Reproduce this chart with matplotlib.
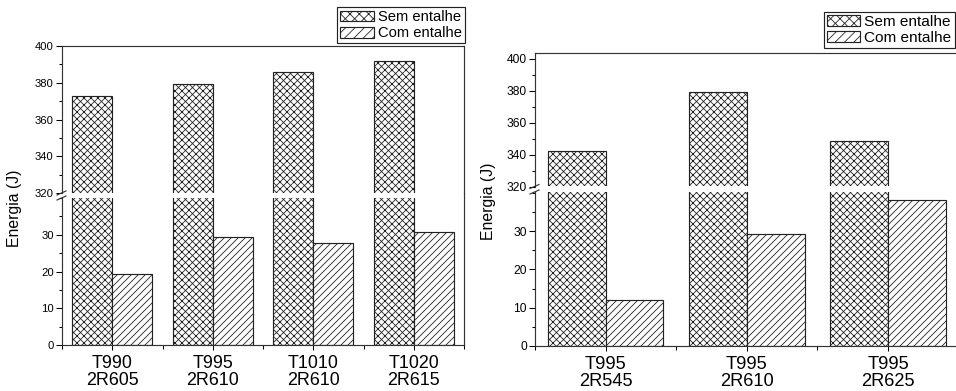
import numpy as np
import matplotlib.pyplot as plt
from matplotlib.patches import Patch
from matplotlib.ticker import MultipleLocator

# Data
labels_left = ["T990\n2R605", "T995\n2R610", "T1010\n2R610", "T1020\n2R615"]
sem_left = [373, 379.5, 386, 392]
com_left = [19.4, 29.4, 27.7, 30.8]

labels_right = ["T995\n2R545", "T995\n2R610", "T995\n2R625"]
sem_right = [342.2, 379, 348.7]
com_right = [12.1, 29.2, 38.2]

plt.rcParams["font.family"] = ["Liberation Sans", "DejaVu Sans"]
plt.rcParams["hatch.linewidth"] = 0.7

DPI = 84
W, H = 956, 391
fig = plt.figure(figsize=(W / DPI, H / DPI), dpi=DPI)
EDGE = "#222222"
HATCH_SEM = "xxxx"
HATCH_COM = "////"


def px_rect(x0, x1, y0, y1):
    # pixel box (top-left origin) -> figure fraction rect
    return [x0 / W, 1 - y1 / H, (x1 - x0) / W, (y1 - y0) / H]


def panel(box_top, box_bot, labels, sem, com, top_lim, bot_lim, width,
          fs_ytick, fs_xtick):
    ax_t = fig.add_axes(px_rect(*box_top))
    ax_b = fig.add_axes(px_rect(*box_bot))
    x = np.arange(1, len(labels) + 1)
    for ax in (ax_t, ax_b):
        ax.bar(x - width / 2, sem, width, color="white", edgecolor=EDGE,
               hatch=HATCH_SEM, linewidth=1.0)
        ax.bar(x + width / 2, com, width, color="white", edgecolor=EDGE,
               hatch=HATCH_COM, linewidth=1.0)
        ax.set_xlim(0.5, len(labels) + 0.5)
        for s in ax.spines.values():
            s.set_linewidth(1.0)
            s.set_color("#333333")
        ax.tick_params(axis="y", which="major", direction="out", length=5,
                       width=0.9, labelsize=fs_ytick, pad=2, right=False)
        ax.tick_params(axis="y", which="minor", direction="out", length=2.6,
                       width=0.9, right=False)

    ax_t.set_ylim(*top_lim)
    ax_t.yaxis.set_minor_locator(MultipleLocator(10))
    ax_t.spines["bottom"].set_visible(False)
    ax_t.tick_params(axis="x", which="both", bottom=False, top=False,
                     labelbottom=False)
    ax_t.set_yticks([v for v in range(320, 401, 20)])

    ax_b.set_ylim(*bot_lim)
    ax_b.set_yticks([0, 10, 20, 30])
    ax_b.yaxis.set_minor_locator(MultipleLocator(5))
    ax_b.spines["top"].set_visible(False)
    ax_b.set_xticks(x)
    ax_b.set_xticklabels(labels, fontsize=fs_xtick, linespacing=1.0)
    ax_b.set_xticks(np.arange(0.5, len(labels) + 1, 1.0), minor=True)
    ax_b.tick_params(axis="x", which="major", direction="out", length=4,
                     width=0.9, pad=4.5)
    ax_b.tick_params(axis="x", which="minor", direction="out", length=3,
                     width=0.9)

    # break marks on the left axis and right spine across the gap
    gap = box_bot[2] - box_top[3]
    wt = box_top[1] - box_top[0]
    ht = box_top[3] - box_top[2]
    hb = box_bot[3] - box_bot[2]
    kw = dict(color="#333333", lw=1.0, clip_on=False)
    ax_t.plot([-5 / wt, 4 / wt], [-2 / ht, 2 / ht],
              transform=ax_t.transAxes, **kw)
    ax_b.plot([-5 / wt, 4 / wt], [1 - 2 / hb, 1 + 2 / hb],
              transform=ax_b.transAxes, **kw)
    ax_t.plot([1, 1], [0, -gap / ht], transform=ax_t.transAxes,
              color="#333333", lw=1.0, clip_on=False)
    return ax_t, ax_b


# left panel
panel((62, 464, 46, 193), (62, 464, 198, 345), labels_left, sem_left,
      com_left, (320, 400), (0, 40), 0.4, 9.6, 15.3)
# right panel (right edge runs past the figure)
panel((535, 958.6, 52.7, 186.5), (535, 958.6, 192, 346), labels_right,
      sem_right, com_right, (320, 403.7), (0, 40.2), 0.41, 10.3, 15.7)

fig.text(14.5 / W, 1 - 208 / H, "Energia (J)", rotation=90, ha="center",
         va="center", fontsize=13.5)
fig.text(488 / W, 1 - 201 / H, "Energia (J)", rotation=90, ha="center",
         va="center", fontsize=13.5)

handles = [
    Patch(facecolor="white", edgecolor=EDGE, hatch="xxx", label="Sem entalhe"),
    Patch(facecolor="white", edgecolor=EDGE, hatch="///", label="Com entalhe"),
]
leg_kw = dict(frameon=True, fancybox=False, edgecolor="#222222",
              framealpha=1, borderpad=0.2, labelspacing=0.15,
              handleheight=0.75, handletextpad=0.3, borderaxespad=0,
              bbox_transform=fig.transFigure)
leg1 = fig.legend(handles=handles, loc="upper right",
                  bbox_to_anchor=(465 / W, 1 - 7.3 / H), fontsize=12.6,
                  handlelength=2.3, **leg_kw)
leg2 = fig.legend(handles=handles, loc="upper left",
                  bbox_to_anchor=(824.3 / W, 1 - 11.7 / H), fontsize=13.2,
                  handlelength=2.1, **leg_kw)
for leg in (leg1, leg2):
    leg.get_frame().set_linewidth(1.0)

fig.savefig("out.png", dpi=DPI)
plt.close(fig)
